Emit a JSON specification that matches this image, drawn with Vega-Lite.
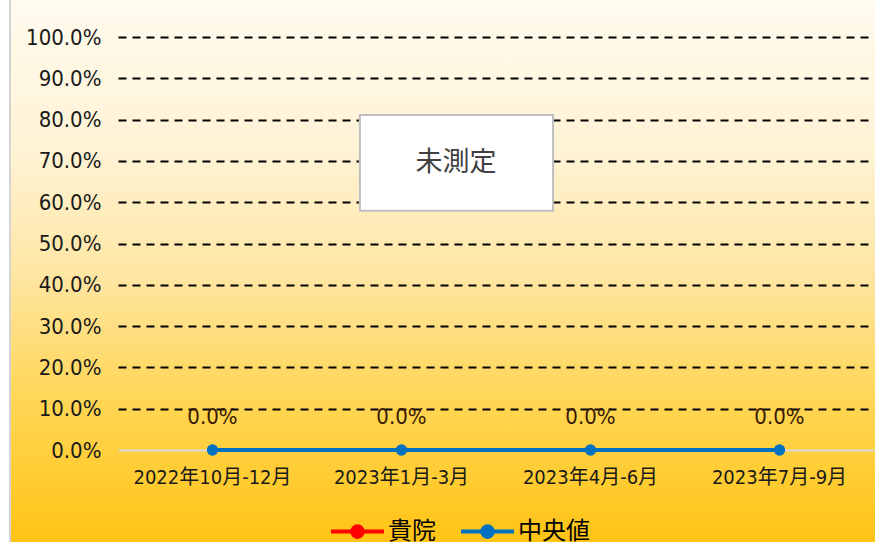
{
  "$schema": "https://vega.github.io/schema/vega-lite/v6.json",
  "width": 870,
  "height": 550,
  "autosize": {"type": "none"},
  "padding": {"left": 10, "top": -3, "right": -5, "bottom": -5},
  "background": "#ffffff",
  "view": {
    "fill": {
      "gradient": "linear",
      "x1": 0, "y1": 0, "x2": 0, "y2": 1,
      "stops": [
        {"offset": 0, "color": "#FFFBEF"},
        {"offset": 0.28, "color": "#FFF3D5"},
        {"offset": 0.5, "color": "#FEE6A4"},
        {"offset": 0.73, "color": "#FFD656"},
        {"offset": 1, "color": "#FFC312"}
      ]
    },
    "stroke": "#d4d4d4",
    "strokeWidth": 2
  },
  "data": {
    "values": [
      {"period": "2022年10月-12月", "series": "貴院", "value": null},
      {"period": "2023年1月-3月", "series": "貴院", "value": null},
      {"period": "2023年4月-6月", "series": "貴院", "value": null},
      {"period": "2023年7月-9月", "series": "貴院", "value": null},
      {"period": "2022年10月-12月", "series": "中央値", "value": 0},
      {"period": "2023年1月-3月", "series": "中央値", "value": 0},
      {"period": "2023年4月-6月", "series": "中央値", "value": 0},
      {"period": "2023年7月-9月", "series": "中央値", "value": 0}
    ]
  },
  "layer": [
    {
      "mark": {"type": "line", "strokeWidth": 4, "point": {"filled": true, "size": 130}},
      "encoding": {
        "x": {
          "field": "period",
          "type": "nominal",
          "sort": null,
          "scale": {"type": "band", "range": [108, 864], "paddingInner": 0, "paddingOuter": 0},
          "axis": {
            "orient": "bottom",
            "offset": -97,
            "title": null,
            "domain": true,
            "domainColor": "#d9d9d9",
            "domainWidth": 2,
            "ticks": false,
            "tickSize": 0,
            "labelPadding": 17,
            "labelFont": "DejaVu Sans Condensed, Roboto, Noto Sans CJK JP",
            "labelFontSize": 20,
            "labelColor": "#1a1a1a",
            "labelAngle": 0,
            "grid": false,
            "zindex": 0
          }
        },
        "y": {
          "field": "value",
          "type": "quantitative",
          "scale": {"domain": [0, 1], "range": [453, 40], "nice": false},
          "axis": {
            "values": [0, 0.1, 0.2, 0.3, 0.4, 0.5, 0.6, 0.7, 0.8, 0.9, 1],
            "format": ".1%",
            "offset": -98,
            "title": null,
            "domain": false,
            "ticks": false,
            "tickSize": 0,
            "labelPadding": 7,
            "labelFont": "DejaVu Sans Condensed, Roboto",
            "labelFontSize": 22,
            "labelColor": "#1a1a1a",
            "grid": true,
            "gridColor": {"condition": {"test": "datum.value === 0", "value": "transparent"}, "value": "#000000"},
            "gridDash": [8, 6],
            "gridWidth": 2,
            "zindex": 0
          }
        },
        "color": {
          "field": "series",
          "type": "nominal",
          "scale": {"domain": ["貴院", "中央値"], "range": ["#FF0000", "#0070C0"]},
          "legend": {
            "orient": "none",
            "legendX": 319,
            "legendY": 506,
            "direction": "horizontal",
            "title": null,
            "padding": 0,
            "symbolType": "M-1,0H1M-0.2,0A0.2,0.2,0,1,0,0.2,0A0.2,0.2,0,1,0,-0.2,0Z",
            "symbolSize": 2809,
            "symbolStrokeWidth": 4,
            "labelFont": "Noto Sans CJK JP",
            "labelFontSize": 24,
            "labelColor": "#000000",
            "labelOffset": 2,
            "columnPadding": 17,
            "encode": {"symbols": {"update": {"fill": {"scale": "color", "field": "value"}}}}
          }
        }
      }
    },
    {
      "transform": [{"filter": "datum.value != null"}],
      "mark": {"type": "text", "dy": -33, "font": "DejaVu Sans Condensed, Roboto", "fontSize": 22, "color": "#3a1a02", "baseline": "middle"},
      "encoding": {
        "x": {"field": "period", "type": "nominal", "sort": null},
        "y": {"field": "value", "type": "quantitative"},
        "text": {"field": "value", "type": "quantitative", "format": ".1%"}
      }
    },
    {
      "data": {"values": [{"note": "未測定"}]},
      "mark": {"type": "rect", "fill": "#ffffff", "stroke": "#bfbfbf", "strokeWidth": 2},
      "encoding": {
        "x": {"datum": "2023年1月-3月", "bandPosition": 0.28},
        "x2": {"datum": "2023年4月-6月", "bandPosition": 0.302},
        "y": {"datum": 0.811},
        "y2": {"datum": 0.579}
      }
    },
    {
      "data": {"values": [{"note": "未測定"}]},
      "mark": {"type": "text", "font": "Noto Sans CJK JP", "fontSize": 27, "color": "#404040", "baseline": "middle"},
      "encoding": {
        "x": {"datum": "2023年1月-3月", "bandPosition": 0.788},
        "y": {"datum": 0.695},
        "text": {"field": "note", "type": "nominal"}
      }
    }
  ]
}
